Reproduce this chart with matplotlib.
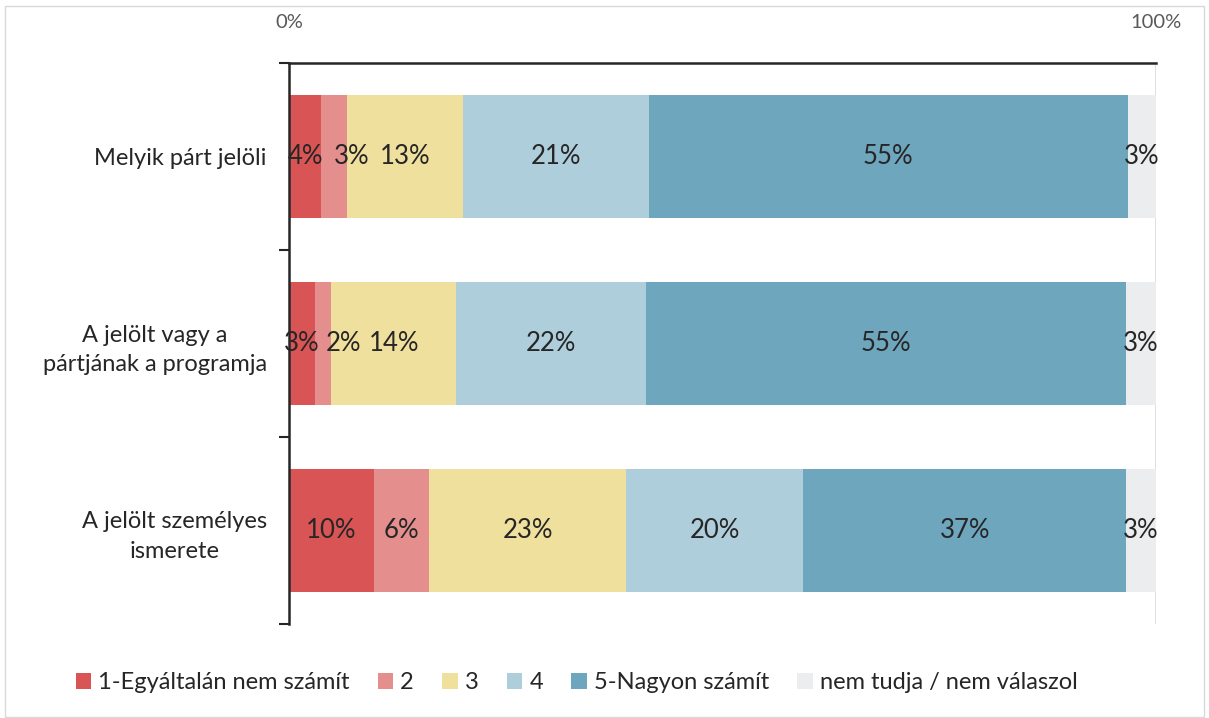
import matplotlib.pyplot as plt
import numpy as np
from matplotlib.patches import Rectangle

plt.rcParams['font.family'] = ['Lato', 'DejaVu Sans']

kategoriak = ["Melyik párt jelöli", "A jelölt vagy a\npártjának a programja", "A jelölt személyes\nismerete"]
sorozatok = ["1-Egyáltalán nem számít", "2", "3", "4", "5-Nagyon számít", "nem tudja / nem válaszol"]
ertekek = [
    [3.7, 3.0, 13.4, 21.4, 55.3, 3.2],
    [3.0, 1.9, 14.4, 21.9, 55.4, 3.4],
    [9.8, 6.4, 22.7, 20.4, 37.3, 3.4],
]
szinek = ['#D95555', '#E48E8D', '#F0E09E', '#AFCEDB', '#6EA6BE', '#ECEDEF']

# a keskeny "2"-es szeletek címkéit jobbra toljuk, mint az eredetin
eltolas = {(0, 1): 2.0, (1, 1): 2.3}

ertekek = np.array(ertekek)
fig = plt.figure(figsize=(12.09, 7.18), dpi=100)
ax = fig.add_axes([0.239, 0.131, 0.717, 0.781])

y = np.arange(len(kategoriak))
bal = np.zeros(len(kategoriak))
for j, nev in enumerate(sorozatok):
    ax.barh(y, ertekek[:, j], left=bal, height=0.66, color=szinek[j], label=nev)
    for i in range(len(kategoriak)):
        ax.text(bal[i] + ertekek[i, j] / 2 + eltolas.get((i, j), 0), y[i],
                '%.0f%%' % ertekek[i, j],
                ha='center', va='center', fontsize=18.5, color='#262626')
    bal += ertekek[:, j]

ax.set_xlim(0, 100)
ax.set_ylim(2.5, -0.5)
ax.xaxis.tick_top()
ax.set_xticks([0, 100])
ax.set_xticklabels(['0%', '100%'])
ax.tick_params(axis='x', length=0, pad=23, labelsize=14.5, labelcolor='#595959')
ax.set_yticks(y)
ax.set_yticklabels(kategoriak)
ax.set_yticks([-0.5, 0.5, 1.5, 2.5], minor=True)
ax.tick_params(axis='y', which='major', length=0, pad=16, labelsize=17, labelcolor='#262626')
ax.tick_params(axis='y', which='minor', length=7, width=1.5, color='#262626')
for lbl in ax.get_yticklabels():
    lbl.set_multialignment('center')
    lbl.set_linespacing(1.5)

ax.axvline(100, color='#D9D9D9', lw=1.2, zorder=0)
for s in ['right', 'bottom']:
    ax.spines[s].set_visible(False)
ax.spines['top'].set_linewidth(1.8)
ax.spines['left'].set_linewidth(1.8)
ax.spines['top'].set_color('#262626')
ax.spines['left'].set_color('#262626')

fig.legend(loc='center left', bbox_to_anchor=(0.045, 0.049), ncol=6, frameon=False,
           fontsize=17, handlelength=0.65, handleheight=0.65, handletextpad=0.3,
           columnspacing=1.2, labelcolor='#262626')

fig.patches.append(Rectangle((0.004, 0.002), 0.992, 0.989, transform=fig.transFigure,
                             fill=False, edgecolor='#D9D9D9', lw=1))

fig.savefig('out.png', dpi=100)
